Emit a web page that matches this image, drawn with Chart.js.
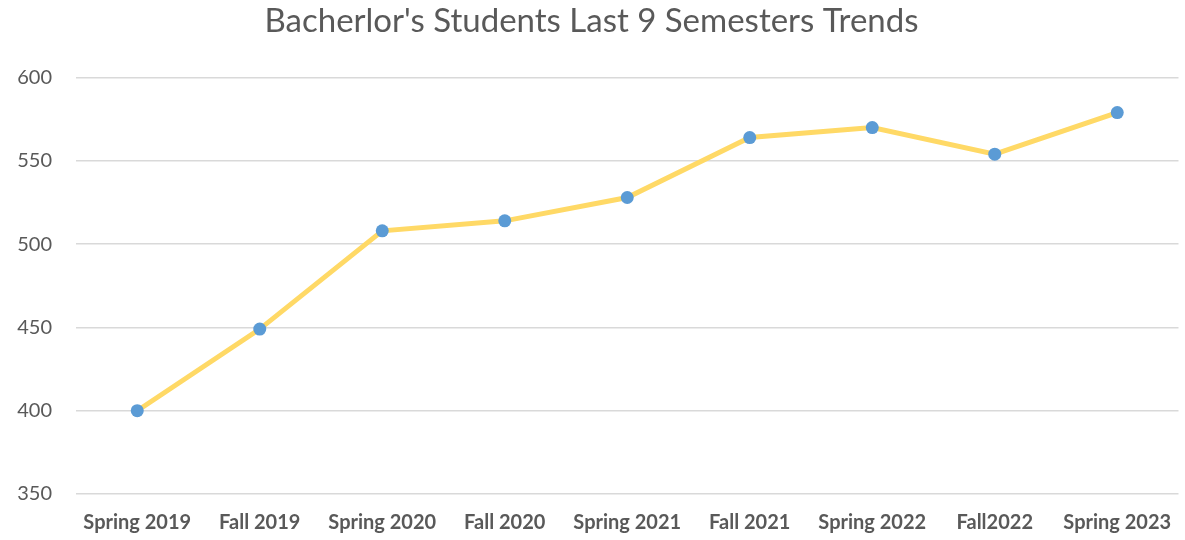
<!DOCTYPE html>
<html>
<head>
<meta charset="utf-8">
<script src="https://cdn.jsdelivr.net/npm/chart.js@4"></script>
<style>
  html, body { margin: 0; padding: 0; background: #fff; }
  #wrap { width: 1185px; height: 540px; }
</style>
</head>
<body>
<div id="wrap"><canvas id="trend"></canvas></div>
<script>
const semesters = ["Spring 2019", "Fall 2019", "Spring 2020", "Fall 2020", "Spring 2021",
                   "Fall 2021", "Spring 2022", "Fall2022", "Spring 2023"];
const students = [400, 449, 508, 514, 528, 564, 570, 554, 579];
const yTicks = [350, 400, 450, 500, 550, 600];

const ctx = document.getElementById("trend").getContext("2d");
new Chart(ctx, {
  type: "line",
  data: {
    labels: semesters,
    datasets: [{
      label: "Students",
      data: students,
      borderColor: "#ffd966",
      borderWidth: 5,
      pointBackgroundColor: "#5b9bd5",
      pointBorderColor: "#5b9bd5",
      pointRadius: 6.5,
      pointBorderWidth: 0,
      tension: 0,
      fill: false,
    }],
  },
  options: {
    responsive: true,
    maintainAspectRatio: false,
    animation: false,
    layout: { padding: { left: 0, right: 2, top: 0, bottom: 0 } },
    plugins: {
      legend: { display: false },
      tooltip: { enabled: false },
      title: {
        display: true,
        text: "Bacherlor's Students Last 9 Semesters Trends",
        color: "#595959",
        font: { family: "Lato", size: 33, weight: "normal" },
        padding: { top: 2, bottom: 36 },
      },
    },
    scales: {
      x: {
        offset: true,
        grid: { display: false, drawTicks: false },
        border: { display: false },
        ticks: {
          color: "#595959",
          font: { family: "Lato", size: 20, weight: "bold" },
          padding: 17,
          maxRotation: 0,
          autoSkip: false,
        },
        afterFit: (s) => { s.height = 46; s.paddingLeft = 0; s.paddingRight = 0; },
      },
      y: {
        min: 350,
        max: 600,
        grid: { color: "#d9d9d9", lineWidth: 1.5, drawTicks: false },
        border: { display: false },
        afterBuildTicks: (s) => { s.ticks = yTicks.map(v => ({ value: v })); },
        ticks: {
          color: "#595959",
          font: { family: "Lato", size: 20 },
          padding: 24,
        },
        afterFit: (s) => { s.width = 76; s.paddingTop = 0; s.paddingBottom = 0; },
      },
    },
  },
});
</script>
</body>
</html>
